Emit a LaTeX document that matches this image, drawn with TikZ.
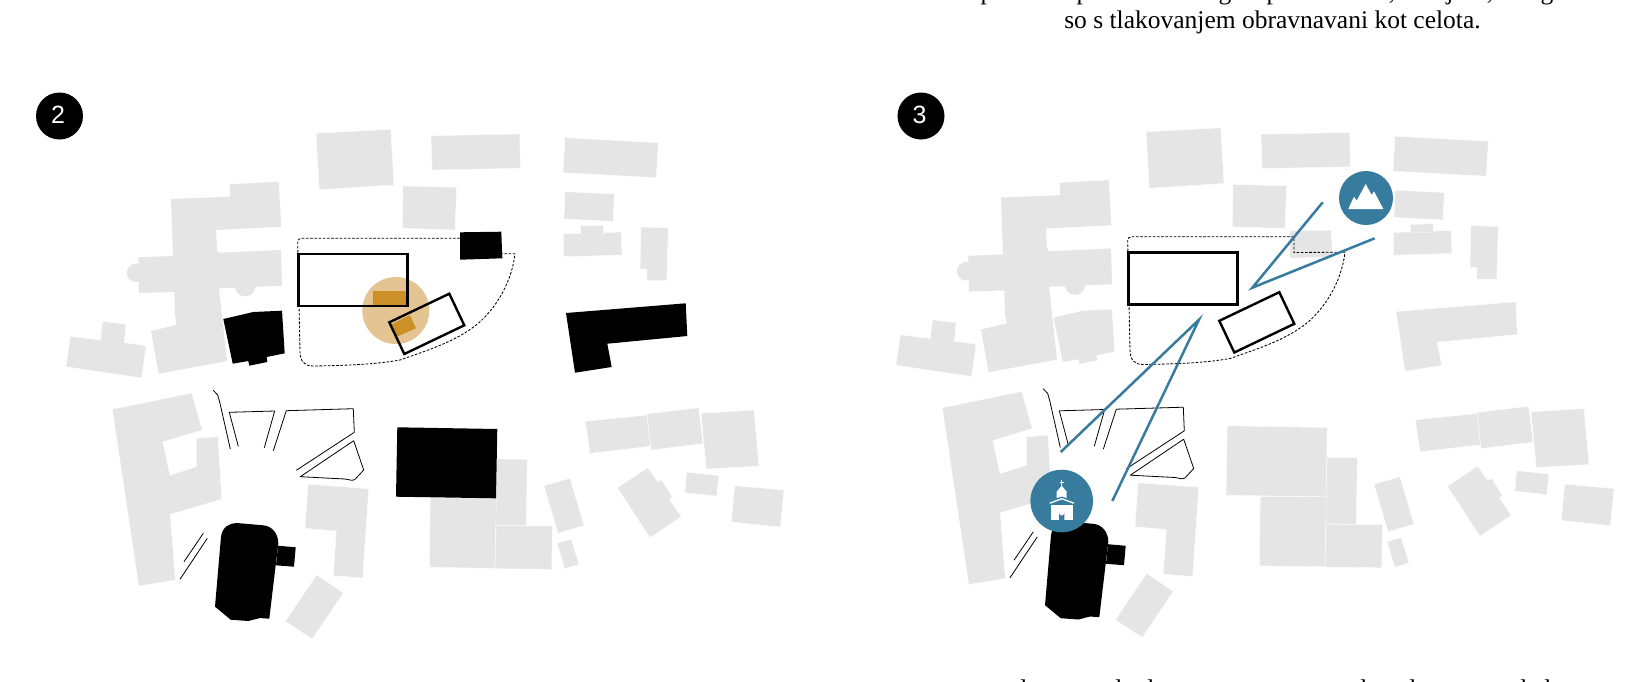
\documentclass[tikz,border=0pt]{standalone}
\usepackage{fontspec}
\setmainfont{Liberation Serif}
\newfontfamily\digitfont{Liberation Sans}
\definecolor{bgray}{HTML}{E5E5E5}
\definecolor{halo}{HTML}{E4C493}
\definecolor{ochre}{HTML}{CB9028}
\definecolor{teal}{HTML}{377C9F}
\tikzset{
  bldg/.style={fill=bgray,draw=white,line width=.35pt},
  dark/.style={fill=black},
  wall/.style={draw=black,line width=.8pt,line join=round},
  mass/.style={draw=black,line width=2.4pt,line join=miter},
  site/.style={draw=black,line width=.85pt,dash pattern=on 2.6pt off 1.6pt},
  sight/.style={draw=teal,line width=2.5pt,line join=miter},
  badge/.style={circle,fill=black,text=white,minimum size=47pt,inner sep=0pt,font=\digitfont\fontsize{25}{25}\selectfont},
  icon/.style={circle,fill=teal,inner sep=0pt},
  para/.style={text=black,inner sep=0pt,anchor=base,font=\fontsize{25.5}{30}\selectfont},
}
\newcommand{\hallshape}{(171,199)--(230,196.7)--(229.7,184.3)--(278.7,181.7)--(281.3,226.7)--(216,230)--(217,250)--(219.3,252.7)--(281,250)--(282,285.7)--(219,288.3)--(227,361)--(158.7,373.7)--(151,331)--(176.7,325)--(175,315)--(174.3,292)--(139,293)--(138.3,257.3)--(173,256)--cycle}
\newcommand{\neighbours}{%
  \fill[bgray] (245,286) circle (10.3);
  \fill[bgray] (136.2,272.7) circle (9.3);
  \path[bldg] (316,133.3)--(390.7,129.3)--(394,185)--(319.3,189.7)--cycle;
  \path[fill=bgray] \hallshape;
  \path[bldg] (70.3,336.3)--(66,366.7)--(141.7,378)--(146,345.7)--(124.3,342.7)--(126,324.3)--(102.7,321.3)--(100.3,340)--cycle;
  \path[bldg] (431,135.7)--(519.7,134)--(520.3,168.3)--(432,170)--cycle;
  \path[bldg] (403,186)--(456.7,187.3)--(455,230)--(402.3,228.3)--cycle;
  \path[bldg] (565,137.7)--(658.3,142.7)--(656.3,177.7)--(563,172.7)--cycle;
  \path[bldg] (565,191.7)--(614.3,194)--(613,221.3)--(564,219)--cycle;
  \path[bldg] (563.3,234)--(621,232)--(622,255)--(563.7,256.7)--cycle;
  \path[bldg] (580.7,233.5)--(580.7,226)--(603.3,225.3)--(603.7,234)--(580.7,234)--cycle;
  \path[bldg] (641,227)--(668.3,228)--(666.7,280.7)--(647,280.7)--(647,269.3)--(640,269)--cycle;
  \path[bldg] (112.3,409.3)--(191.7,393)--(202.3,430)--(162.7,442)--(170,475.3)--(196.3,466.7)--(196.3,438.3)--(218,436.7)--(221.7,499.3)--(170.3,514.3)--(175.3,580)--(138.7,586)--cycle;
  \path[bldg] (308,484.3)--(368.7,488.7)--(362.7,578)--(333.3,575.7)--(336.3,531)--(305,528.3)--cycle;
  \path[bldg] (316.7,574.7)--(343.3,593)--(312.3,639)--(285.3,621.3)--cycle;
  \path[bldg] (497,459)--(527.3,459.3)--(526.3,525.7)--(495,525.3)--cycle;
  \path[bldg] (430.3,498)--(496.3,498)--(495,568.3)--(429.3,567.3)--cycle;
  \path[bldg] (496,525.7)--(552.3,526)--(551.7,569.3)--(495,568.7)--cycle;
  \path[bldg] (544,485.7)--(570,478.3)--(584,525.7)--(558,533.3)--cycle;
  \path[bldg] (557,543)--(571.3,539.3)--(579,564.3)--(564.7,569)--cycle;
  \path[bldg] (585.3,421.3)--(647,415)--(650.7,446.3)--(590,453.3)--cycle;
  \path[bldg] (647,414)--(698.7,407.7)--(703,443.7)--(651,450)--cycle;
  \path[bldg] (701,413.3)--(754,410)--(759,466)--(706.3,469)--cycle;
  \path[bldg] (617.3,487.7)--(647.7,467.7)--(657.7,481.7)--(661.7,480)--(672.7,497.3)--(669.3,499)--(681.3,516.7)--(650,537.7)--cycle;
  \path[bldg] (686.7,472)--(719,475.7)--(716.7,496)--(684.7,492.7)--cycle;
  \path[bldg] (734.7,485.7)--(784,490)--(780.3,527)--(731.3,522)--cycle;
}
\newcommand{\sitedash}{%
  \path[site] (464,238.3)--(302,238.3) .. controls (299,238.3) and (297.7,239.5) .. (297.7,242)
    -- (300,352) .. controls (300.3,361) and (304,366) .. (313,366)
    .. controls (345,365.5) and (375,364.5) .. (400,360)
    .. controls (425,351) and (456,342) .. (478.3,323.3)
    .. controls (498,306) and (512,280) .. (515,253.7)
    -- (464,254) -- cycle;
}
\newcommand{\chapelmass}{%
  \path[dark] (215,606.7)--(221,536.7) .. controls (222.3,526.7) and (230,523) .. (236.7,523)
    -- (263.3,525.3) .. controls (271.7,526) and (278.3,533.3) .. (278.3,543.3)
    -- (269.3,618.7) -- (260,618) -- (248.3,621) -- (230.7,619.7) -- cycle;
  \path[dark] (278,545.7)--(295.7,547.3)--(294,566.7)--(276,565.3)--cycle;
}
\newcommand{\paths}{%
  \path[wall] (213.3,390.3)--(217.7,395)--(220,403.3)--(230.3,449);
  \path[wall] (238.3,446.3)--(229.3,412.3)--(274.7,411)--(264.3,447.7);
  \path[wall] (273.3,450.7)--(286.3,410.7)--(353.3,408.7)--(354.3,432.3)--(296.3,470.3);
  \path[wall] (300.3,476.7)--(353.7,440.7)--(363.7,470)--(354.7,479.7)--(351.7,480.3)--(345,479)--cycle;
  \path[wall] (203.3,533.3)--(184,561.7);
  \path[wall] (207.3,538.3)--(180,579.3);
}
\newcommand{\masses}{%
  \path[mass,fill=none] (298.3,254)--(407.3,254)--(407.3,306)--(298.3,306)--cycle;
  \path[mass,fill=none] (389.3,322.3)--(449.3,293.7)--(464.3,325.3)--(404.3,354)--cycle;
}
\newcommand{\blockA}{(223.3,319)--(253.3,312)--(282,310.7)--(284.7,353.3)--(266.7,357)--(267.3,362)--(249.3,365.7)--(248.3,361)--(232.7,363.7)--cycle}
\newcommand{\blockB}{(460,232.3)--(501.3,231.7)--(502.3,258.3)--(460,259.7)--cycle}
\newcommand{\blockC}{(566,313)--(685.7,303.3)--(687.3,336)--(607.3,343.7)--(611.7,367)--(575,372.7)--cycle}
\newcommand{\blockD}{(397.3,427.3)--(497.3,429)--(496,498.3)--(396,496.7)--cycle}
\begin{document}
\begin{tikzpicture}[x=1pt,y=-1pt]
\useasboundingbox (0,0) rectangle (1642,681);
\clip (0,0) rectangle (1642,681);
\fill[white] (0,0) rectangle (1642,681);

% panel 2
\neighbours
\sitedash
\path[dark] \blockA;
\path[dark] \blockB;
\path[dark] \blockC;
\path[dark] \blockD;
\chapelmass
\paths
\fill[halo] (395.8,310.5) circle (33.5);
\fill[ochre] (373,291)--(405.7,291)--(405.7,305)--(373,305)--cycle;
\fill[ochre] (391.7,324.3)--(410,315)--(416,328.3)--(396.7,336.7)--cycle;
\masses
\node[badge] (two) at (59.5,116) {\hspace*{-3pt}\raisebox{1.5pt}{2}};

% panel 3
\begin{scope}[shift={(830,-1.5)}]
\neighbours
\path[bldg] \blockA;
\path[bldg] \blockB;
\path[bldg] \blockC;
\path[bldg] \blockD;
\sitedash
\chapelmass
\paths
\masses
\end{scope}
\node[badge] (three) at (921,116) {\hspace*{-3pt}\raisebox{1.5pt}{3}};

\node[icon,minimum size=54pt] (peak) at (1366,198) {};
\node[icon,minimum size=62.6pt] (church) at (1061.7,501) {};
\coordinate (viewA) at (1252.3,287.7);
\coordinate (viewB) at (1199,319.7);
\coordinate (peakL) at (1322.7,202.3);
\coordinate (peakR) at (1374.7,238.3);
\coordinate (churchL) at (1060.7,452);
\coordinate (churchR) at (1112.3,501);
\path[sight] (peakL)--(viewA)--(peakR);
\path[sight] (churchL)--(viewB)--(churchR);
\fill[white] (1348.3,209)--(1354,196.7)--(1356.7,200.7)--(1365.7,184)--(1371.7,195)--(1374,191.3)--(1383.3,209)--cycle;
% church icon
\fill[white] (1051,505)--(1072.7,505)--(1072.7,520)--(1051,520)--cycle;
\fill[teal] (1059,520)--(1059,513) arc[start angle=180,end angle=0,radius=2.65] --(1064.3,520)--cycle;
\draw[white,line width=1.3pt] (1049.7,503.2)--(1061.7,498.7)--(1074,503.2);
\fill[white] (1056.7,498)--(1056.7,491.7)--(1061.7,485.7)--(1066.7,491.7)--(1066.7,498)--(1061.7,496.5)--cycle;
\draw[white,line width=1pt] (1061.7,480)--(1061.7,486) (1059.7,482)--(1063.7,482);

% text
\node[para] (caption) at (1272.5,28.5) {so s tlakovanjem obravnavani kot celota.};
% clipped line above: only the descenders show
\node[para] (ta) at (987,-1) {p};
\node[para] (tb) at (1083,-1) {p};
\node[para] (tc) at (1225,-1) {g};
\node[para] (td) at (1273,-1) {p};
\node[para] (te) at (1392,-1) {,};
\node[para] (tf) at (1450,-1) {j};
\node[para] (tg) at (1490,-1) {,};
\node[para] (th) at (1547,-1) {g};
% clipped line below: only the ascenders show
\node[para] (ba) at (1024,697) {l};
\node[para] (bb) at (1119,697) {l};
\node[para] (bc) at (1151,697) {l};
\node[para] (bd) at (1364,697) {l};
\node[para] (be) at (1413,697) {l};
\node[para] (bf) at (1524,697) {l};
\node[para] (bg) at (1548,697) {l};
\end{tikzpicture}
\end{document}
